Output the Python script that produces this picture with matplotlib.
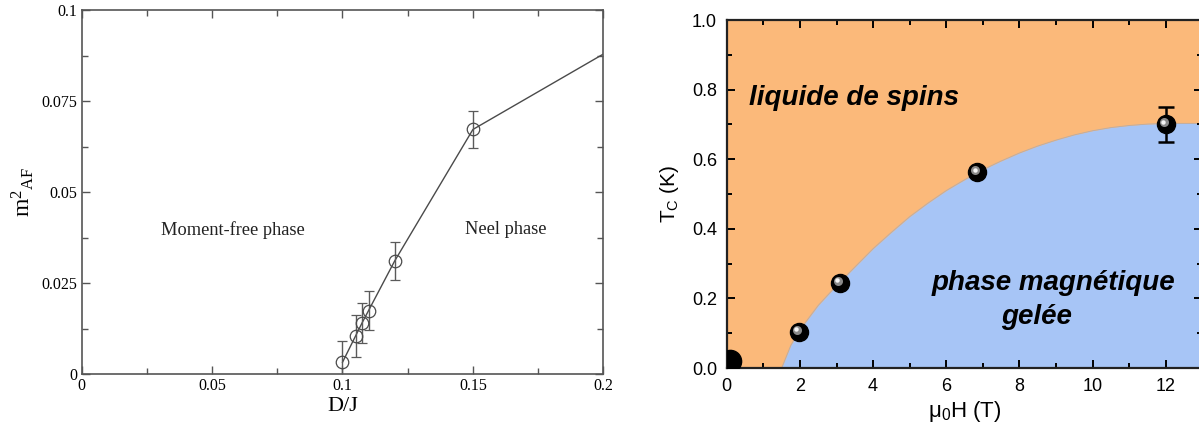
import matplotlib.pyplot as plt
from matplotlib.ticker import MultipleLocator
from matplotlib.transforms import offset_copy

plt.rcParams.update({
    'mathtext.default': 'regular',
    'xtick.direction': 'in',
    'ytick.direction': 'in',
    'xtick.top': True,
    'ytick.right': True,
})

# --- panneau gauche : m^2_AF vs D/J ---
dj = [0.1, 0.105, 0.1075, 0.11, 0.12, 0.15, 0.2]
m2_af = [0.0033, 0.0105, 0.0141, 0.0175, 0.0311, 0.0672, 0.0879]
m2_err = [0.0058, 0.0058, 0.0055, 0.0054, 0.0053, 0.005]
dj_ticks = [0, 0.05, 0.1, 0.15, 0.2]
dj_labels = ['0', '0.05', '0.1', '0.15', '0.2']
m2_ticks = [0, 0.025, 0.05, 0.075, 0.1]
m2_labels = ['0', '0.025', '0.05', '0.075', '0.1']

# --- panneau droit : Tc vs mu0H ---
h_pts = [1.98, 3.1, 6.85, 12.0]
tc_pts = [0.103, 0.244, 0.562, 0.70]
tc_err = [0, 0, 0, 0.05]
h_zero = [0.08]
tc_zero = [0.02]
# frontiere
h_curve = [1.5, 1.75, 2.0, 2.5, 3.0, 3.5, 4.0, 4.5, 5.0, 5.5, 6.0, 6.5, 7.0,
           7.5, 8.0, 8.5, 9.0, 9.5, 10.0, 10.5, 11.0, 11.5, 12.0, 13.5]
tc_curve = [0.0, 0.065, 0.11, 0.18, 0.237, 0.29, 0.343, 0.39, 0.435, 0.474,
            0.51, 0.541, 0.57, 0.595, 0.618, 0.638, 0.655, 0.67, 0.682,
            0.691, 0.697, 0.701, 0.703, 0.703]
h_ticks = [0, 2, 4, 6, 8, 10, 12]
tc_ticks = [0, 0.2, 0.4, 0.6, 0.8, 1.0]

C_LINE = '#4a4a4a'
C_ORANGE = '#FBB97A'
C_BLUE = '#A7C5F6'

fig = plt.figure(figsize=(11.99, 4.32), dpi=100)

# ========== gauche ==========
ax1 = fig.add_axes([0.0681, 0.1336, 0.4351, 0.8433])
serif = ['Liberation Serif', 'DejaVu Serif']
ax1.plot(dj, m2_af, color=C_LINE, lw=1.0, zorder=2)
ax1.errorbar(dj[:6], m2_af[:6], yerr=m2_err, fmt='o', ms=9, mfc='none',
             mec=C_LINE, mew=0.9, ecolor='#5a5a5a', elinewidth=1.0,
             capsize=3.5, capthick=1.0, zorder=3)
ax1.set_xlim(0, 0.2)
ax1.set_ylim(0, 0.1)
ax1.set_xticks(dj_ticks)
ax1.set_xticklabels(dj_labels, family=serif, fontsize=11.5)
ax1.set_yticks(m2_ticks)
ax1.set_yticklabels(m2_labels, family=serif, fontsize=11.5)
ax1.xaxis.set_minor_locator(MultipleLocator(0.025))
ax1.yaxis.set_minor_locator(MultipleLocator(0.0125))
ax1.tick_params(which='major', length=6, width=1, color='#555555', pad=3)
ax1.tick_params(which='minor', length=4, width=1, color='#555555')
for s in ax1.spines.values():
    s.set_color('#555555')
    s.set_linewidth(1.2)
ax1.set_xlabel('D/J', family=serif, fontsize=16, labelpad=2)
ax1.set_ylabel('m$^{2}$$_{AF}$', family=serif, fontsize=17, labelpad=4)
ax1.text(0.058, 0.0397, 'Moment-free phase', family=serif, fontsize=13.2,
         ha='center', va='center', color='#222222')
ax1.text(0.1625, 0.0397, 'Neel phase', family=serif, fontsize=13.2,
         ha='center', va='center', color='#222222')

# ========== droite ==========
sans = ['Liberation Sans', 'DejaVu Sans']
ax2 = fig.add_axes([0.6061, 0.148, 0.3968, 0.8057])
ax2.set_facecolor(C_ORANGE)
ax2.fill_between(h_curve, 0, tc_curve, color=C_BLUE, lw=0, zorder=1)
ax2.plot(h_curve, tc_curve, color='#b8aca6', lw=0.6, zorder=1.5)

ax2.errorbar(h_pts, tc_pts, yerr=tc_err, fmt='none', ecolor='black',
             elinewidth=1.8, capsize=6, capthick=1.8, zorder=3)
ax2.plot(h_zero, tc_zero, 'o', color='black', ms=16, zorder=4)
ax2.plot(h_pts, tc_pts, 'o', color='black', ms=13, zorder=4)
# reflet des billes
tr1 = offset_copy(ax2.transData, fig=fig, x=-1.5, y=1.5, units='points')
tr2 = offset_copy(ax2.transData, fig=fig, x=-2.0, y=2.0, units='points')
ax2.plot(h_pts, tc_pts, 'o', color='#8a8a8a', ms=6.5, mew=0, transform=tr1, zorder=5)
ax2.plot(h_pts, tc_pts, 'o', color='#f4f4f4', ms=3.2, mew=0, transform=tr2, zorder=6)

ax2.set_xlim(0, 13)
ax2.set_ylim(0, 1.0)
ax2.set_xticks(h_ticks)
ax2.set_xticklabels([str(v) for v in h_ticks], family=sans, fontsize=13)
ax2.set_yticks(tc_ticks)
ax2.set_yticklabels([f'{v:.1f}' for v in tc_ticks], family=sans, fontsize=13)
ax2.xaxis.set_minor_locator(MultipleLocator(1))
ax2.yaxis.set_minor_locator(MultipleLocator(0.1))
ax2.tick_params(which='major', length=6, width=1.4, color='black', pad=7)
ax2.tick_params(which='minor', length=3.5, width=1.4, color='black')
for s in ax2.spines.values():
    s.set_color('#222222')
    s.set_linewidth(1.6)
ax2.set_xlabel('$\\mu_{0}$H (T)', family=sans, fontsize=16, labelpad=3)
ax2.set_ylabel('T$_{C}$ (K)', family=sans, fontsize=15, labelpad=8)

ax2.text(0.6, 0.775, 'liquide de spins', family=sans, fontsize=20,
         fontweight='bold', fontstyle='italic', ha='left', va='center')
ax2.text(8.92, 0.244, 'phase magnétique', family=sans, fontsize=20,
         fontweight='bold', fontstyle='italic', ha='center', va='center')
ax2.text(8.46, 0.148, 'gelée', family=sans, fontsize=20,
         fontweight='bold', fontstyle='italic', ha='center', va='center')

fig.savefig('out.png', dpi=100)
